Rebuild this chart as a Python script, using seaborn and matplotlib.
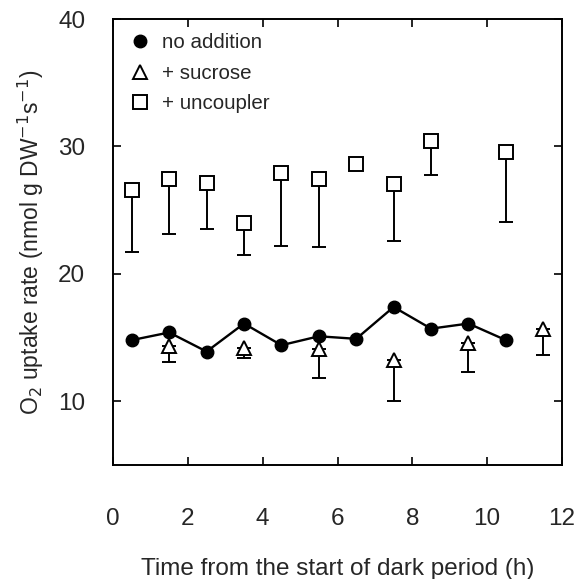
import numpy as np
import pandas as pd
import matplotlib
matplotlib.use("Agg")
import matplotlib.pyplot as plt
import seaborn as sns

# --- data ---
t_none = [0.5, 1.5, 2.5, 3.5, 4.5, 5.5, 6.5, 7.5, 8.5, 9.5, 10.5]
y_none = [14.8, 15.4, 13.9, 16.1, 14.4, 15.1, 14.9, 17.4, 15.7, 16.1, 14.8]

t_suc = [1.5, 3.5, 5.5, 7.5, 9.5, 11.5]
y_suc = [14.3, 14.2, 14.1, 13.2, 14.6, 15.7]
err_suc = [1.25, 0.8, 2.3, 3.2, 2.3, 2.1]

t_unc = [0.5, 1.5, 2.5, 3.5, 4.5, 5.5, 6.5, 7.5, 8.5, 10.5]
y_unc = [26.6, 27.45, 27.1, 24.0, 27.9, 27.45, 28.6, 27.05, 30.4, 29.6]
err_unc = [4.9, 4.35, 3.6, 2.5, 5.7, 5.35, 0.0, 4.45, 2.6, 5.5]

labels = ["no addition", "+ sucrose", "+ uncoupler"]
xticks = [0, 2, 4, 6, 8, 10, 12]
yticks = [10, 20, 30, 40]

sns.set_theme(style="ticks")
plt.rcParams['font.family'] = ['Liberation Sans', 'DejaVu Sans']

fig = plt.figure(figsize=(5.74, 5.79), dpi=100)
ax = fig.add_axes([0.197, 0.197, 0.782, 0.770])

df_none = pd.DataFrame({"t": t_none, "y": y_none})
df_suc = pd.DataFrame({"t": t_suc, "y": y_suc, "e": err_suc})
df_unc = pd.DataFrame({"t": t_unc, "y": y_unc, "e": err_unc})

# one-sided (downward) error bars
for d in (df_suc, df_unc):
    lower = d["e"].values
    ax.errorbar(d["t"], d["y"], yerr=[lower, np.zeros_like(lower)],
                fmt="none", ecolor="black", elinewidth=1.4, capsize=5,
                capthick=1.4, zorder=2)

sns.lineplot(data=df_none, x="t", y="y", ax=ax, color="black", lw=1.7,
             zorder=3, legend=False)
ax.plot(t_none, y_none, "o", color="black", ms=9, zorder=4, label=labels[0])
ax.plot(t_suc, y_suc, "^", mfc="white", mec="black", mew=1.4, ms=10.5,
        ls="none", zorder=4, label=labels[1])
ax.plot(t_unc, y_unc, "s", mfc="white", mec="black", mew=1.4, ms=9.5,
        ls="none", zorder=4, label=labels[2])

ax.set_xlim(0, 12)
ax.set_ylim(5, 40)
ax.set_xticks(xticks)
ax.set_yticks(yticks)
ax.tick_params(direction="in", top=True, right=True, length=6, width=1.2,
               labelsize=17.5, color="black")
ax.tick_params(axis="x", pad=31)
ax.tick_params(axis="y", pad=20)
for s in ax.spines.values():
    s.set_linewidth(1.4)
    s.set_color("black")

ax.set_xlabel("Time from the start of dark period (h)", fontsize=17.5,
              labelpad=20)
ax.set_ylabel("O$_2$ uptake rate (nmol g DW$^{-1}$s$^{-1}$)", fontsize=16.5,
              labelpad=9)

ax.legend(loc="upper left", frameon=False, fontsize=14.8, handletextpad=0.5,
          borderaxespad=0.3, labelspacing=0.55, handlelength=1.2)

fig.savefig("out.png", dpi=100)
